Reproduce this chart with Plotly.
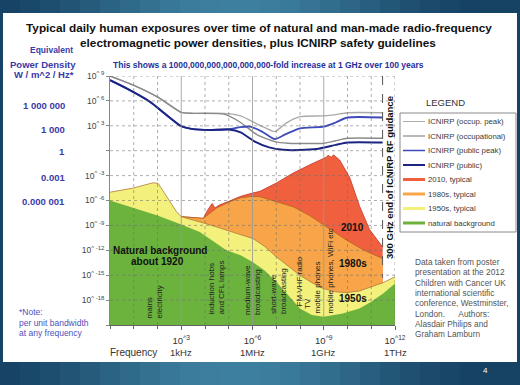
import numpy as np
import plotly.graph_objects as go

W, H = 520, 385
L, R, T, B = 110, 125, 76, 60
PW, PH = W - L - R, H - T - B

def px(x):
    return (x - L) / PW

def py(y):
    return (H - B - y) / PH

FONT = "Arial, Liberation Sans, sans-serif"

# ---------------- data (log10 of frequency in Hz, log10 of W/m^2/Hz) ----------------
occ_peak_f = [0, 0.98, 2.03, 3.0, 3.5, 4.8, 5.5, 6.0, 6.5, 6.94, 7.4, 8.0, 9.0, 9.5, 10.0, 11.48]
occ_peak_v = [9.0, 7.9, 6.43, 4.62, 4.5, 4.5, 4.2, 3.5, 2.8, 2.3, 3.3, 4.1, 4.2, 4.35, 4.58, 4.58]

occ_f = [0, 0.98, 2.03, 3.0, 3.5, 4.8, 5.5, 6.2, 6.94, 7.5, 9.0, 9.5, 10.0, 11.48]
occ_v = [9.0, 7.9, 6.43, 4.62, 4.5, 4.4, 3.4, 1.9, 1.1, 0.9, 0.9, 1.2, 1.5, 1.5]

pub_peak_f = [0, 0.7, 1.68, 2.38, 3.0, 3.5, 4.2, 5.0, 5.5, 5.9, 6.4, 6.94, 7.4, 8.0, 9.0, 9.5, 10.0, 11.48]
pub_peak_v = [8.5, 7.5, 5.9, 4.3, 2.95, 2.6, 2.5, 2.6, 2.85, 2.9, 2.3, 1.4, 2.0, 2.7, 2.9, 3.4, 4.0, 4.0]

pub_f = [0, 0.7, 1.68, 2.38, 3.0, 3.5, 4.2, 5.0, 5.5, 6.1, 6.7, 7.3, 8.0, 8.7, 9.5, 10.0, 11.48]
pub_v = [8.5, 7.5, 5.9, 4.3, 2.95, 2.6, 2.5, 2.55, 2.2, 1.1, 0.4, 0.1, 0.08, 0.2, 0.7, 1.0, 1.0]

red_f = [3.0, 3.93, 4.1, 4.3, 4.42, 4.6, 5.0, 5.5, 6.0, 6.31, 7.0, 7.71, 8.41, 8.9, 9.1, 9.18,
         9.27, 9.32, 9.41, 9.55, 9.67, 10.09, 10.51, 10.93, 11.48]
red_v = [-7.95, -8.15, -7.2, -6.35, -6.9, -6.55, -6.1, -5.5, -5.1, -4.9, -3.9, -2.7, -1.7, -1.05,
         -0.8, -0.55, -0.7, -0.8, -0.5, -0.8, -1.12, -3.2, -6.7, -9.5, -11.6]

orange_f = [3.0, 3.5, 3.93, 4.49, 5.0, 5.47, 6.0, 6.31, 7.0, 7.71, 8.4, 9.11, 9.95, 10.7, 11.48]
orange_v = [-7.95, -8.05, -8.15, -6.9, -6.2, -5.7, -5.5, -5.55, -6.1, -6.75, -7.8, -9.15, -10.76, -12.0, -13.0]

yellow_f = [0, 0.98, 1.5, 1.82, 2.03, 2.38, 2.8, 3.0, 3.5, 3.93, 4.5, 5.19, 6.03, 6.5, 7.01, 7.5,
            7.99, 8.5, 8.97, 9.5, 9.95, 10.5, 10.93, 11.5, 12]
yellow_v = [-5.0, -4.5, -4.1, -3.86, -3.95, -5.5, -7.35, -7.95, -8.4, -8.7, -9.2, -9.8, -10.6, -11.5,
            -12.8, -13.9, -15.0, -15.9, -16.6, -17.0, -17.1, -16.9, -16.5, -15.9, -15.2]

green_f = [0, 1, 2, 3.0, 3.78, 4.9, 5.5, 6.0, 6.5, 7.0, 7.5, 8.0, 8.5, 9.0, 9.8, 10.5, 11.0, 11.5, 12]
green_v = [-6.0, -6.9, -7.8, -8.9, -9.8, -12.0, -12.6, -13.4, -14.4, -15.8, -17.4, -19.0, -19.8,
           -20.0, -19.6, -19.0, -18.2, -17.2, -16.0]

x_tick_exp = [3, 6, 9, 12]
x_tick_names = ["1kHz", "1MHz", "1GHz", "1THz"]
y_tick_exp = [9, 6, 3, 0, -3, -6, -9, -12, -15, -18, -21]
left_equiv_text = ["1 000 000", "1 000", "1", "0.001", "0.000 001"]
icnirp_end_hz = 3e11

X_RANGE = [0, 12]
Y_RANGE = [-21, 9]
Y_FLOOR = 10.0 ** Y_RANGE[0]

C_RED, C_ORANGE, C_YELLOW, C_GREEN = "#f0603f", "#f7a548", "#f3f07c", "#6cb33e"
C_OCC_PEAK, C_OCC, C_PUB_PEAK, C_PUB = "#ababab", "#8a8a8a", "#3d4bbb", "#1b2480"

fig = go.Figure()

def band(f_exp, v_exp, fill, edge):
    xs = 10.0 ** np.array(f_exp, dtype=float)
    ys = 10.0 ** np.array(v_exp, dtype=float)
    fig.add_trace(go.Scatter(
        x=np.concatenate([xs, xs[::-1]]),
        y=np.concatenate([ys, np.full(len(xs), Y_FLOOR)]),
        fill="toself", fillcolor=fill, mode="lines", line=dict(width=0),
        hoverinfo="skip", showlegend=False))
    if edge:
        fig.add_trace(go.Scatter(x=xs, y=ys, mode="lines", line=dict(color=edge, width=0.8),
                                 hoverinfo="skip", showlegend=False))

band(red_f, red_v, C_RED, "#c0392b")
band(orange_f, orange_v, C_ORANGE, "#b5651d")
band(yellow_f, yellow_v, C_YELLOW, "#b07a3a")
band(green_f, green_v, C_GREEN, None)

def line(f_exp, v_exp, color, width):
    fig.add_trace(go.Scatter(x=10.0 ** np.array(f_exp, dtype=float),
                             y=10.0 ** np.array(v_exp, dtype=float),
                             mode="lines", line=dict(color=color, width=width, shape="spline", smoothing=0.6),
                             hoverinfo="skip", showlegend=False))

line(occ_peak_f, occ_peak_v, C_OCC_PEAK, 1.4)
line(occ_f, occ_v, C_OCC, 1.4)
line(pub_peak_f, pub_peak_v, C_PUB_PEAK, 1.8)
line(pub_f, pub_v, C_PUB, 2.0)

# 300 GHz dashed line
fig.add_trace(go.Scatter(x=[icnirp_end_hz, icnirp_end_hz], y=[10.0 ** Y_RANGE[1], 10.0 ** -15.3],
                         mode="lines", line=dict(color="#555", width=1, dash="dash"),
                         hoverinfo="skip", showlegend=False))

shapes = []
# slide frame gradient
n_strips = 26
for i in range(n_strips):
    t = (i + 0.5) / n_strips
    k = np.cos((t - 0.45) * np.pi) ** 2
    r = int(22 + (62 - 22) * k); g = int(66 + (128 - 66) * k); b = int(100 + (160 - 100) * k)
    shapes.append(dict(type="rect", xref="paper", yref="paper",
                       x0=px(i * W / n_strips), x1=px((i + 1) * W / n_strips + 1),
                       y0=py(H), y1=py(0), fillcolor=f"rgb({r},{g},{b})", line=dict(width=0), layer="below"))
shapes.append(dict(type="rect", xref="paper", yref="paper", x0=px(3), x1=px(517), y0=py(362), y1=py(13),
                   fillcolor="white", line=dict(width=0), layer="below"))

# grid lines above fills
for e in range(X_RANGE[0] + 1, X_RANGE[1] + 1):
    major = e in x_tick_exp[:-1]
    shapes.append(dict(type="line", xref="x", yref="y domain", x0=10.0 ** e, x1=10.0 ** e, y0=0, y1=1,
                       line=dict(color="rgba(150,150,150,0.8)" if major else "rgba(110,110,110,0.55)",
                                 width=1, dash="solid" if major else "dot"), layer="above"))
for e in y_tick_exp[:-1]:
    shapes.append(dict(type="line", xref="x domain", yref="y", x0=0, x1=1, y0=10.0 ** e, y1=10.0 ** e,
                       line=dict(color="rgba(110,110,110,0.55)", width=1, dash="dot"), layer="above"))

# legend box
shapes.append(dict(type="rect", xref="paper", yref="paper", x0=px(400), x1=px(516), y0=py(232), y1=py(113),
                   fillcolor="white", line=dict(color="#8a8a8a", width=1)))
legend_items = [
    ("ICNIRP (occup. peak)", C_OCC_PEAK, 1),
    ("ICNIRP (occupational)", C_OCC, 1.2),
    ("ICNIRP (public peak)", C_PUB_PEAK, 1.5),
    ("ICNIRP (public)", C_PUB, 2),
    ("2010, typical", C_RED, 3),
    ("1980s, typical", C_ORANGE, 3),
    ("1950s, typical", C_YELLOW, 3),
    ("natural background", C_GREEN, 3),
]
annotations = []
for i, (name, col, wd) in enumerate(legend_items):
    yy = 121.5 + i * 14.5
    shapes.append(dict(type="line", xref="paper", yref="paper", x0=px(403), x1=px(425), y0=py(yy), y1=py(yy),
                       line=dict(color=col, width=wd)))
    annotations.append(dict(x=px(426), y=py(yy), xref="paper", yref="paper", text=name, showarrow=False,
                            xanchor="left", yanchor="middle", font=dict(family=FONT, size=7.8, color="#3a3a3a")))

def ann(x, y, text, size=9, color="#222", bold=False, xa="center", ya="middle", angle=0, align="center"):
    if bold:
        text = "<b>" + text + "</b>"
    annotations.append(dict(x=px(x), y=py(y), xref="paper", yref="paper", text=text, showarrow=False,
                            xanchor=xa, yanchor=ya, textangle=angle, align=align,
                            font=dict(family=FONT, size=size, color=color)))

ann(445, 102, "LEGEND", size=9.5, color="#333")

# titles
ann(259, 28, "Typical daily human exposures over time of natural and man-made radio-frequency", size=11.8,
    color="#111", bold=True)
ann(258, 43, "electromagnetic power densities, plus ICNIRP safety guidelines", size=11.8, color="#111", bold=True)
ann(111, 65, "This shows a 1000,000,000,000,000,000-fold increase at 1 GHz over 100 years", size=8.5,
    color="#24309a", bold=True, xa="left")

BLUE = "#3a3aa8"
ann(51, 50, "Equivalent", size=8.5, color=BLUE, bold=True)
ann(43, 64, "Power Density", size=9.5, color=BLUE, bold=True)
ann(44, 75, "W / m^2 / Hz*", size=9.5, color=BLUE, bold=True)
for yy, txt in zip([105, 129, 151, 177, 201.5], left_equiv_text):
    ann(67, yy, txt, size=9.5, color=BLUE, bold=True, xa="right")
ann(17, 312, "*Note:", size=8.5, color="#5050b8", xa="left")
ann(17, 322.5, "per unit bandwidth", size=8.5, color="#5050b8", xa="left")
ann(17, 333, "at any frequency", size=8.5, color="#5050b8", xa="left")
ann(133, 352, "Frequency", size=10, color="#333")

# frequency names under the tick exponents
for e, n in zip(x_tick_exp, x_tick_names):
    annotations.append(dict(x=(e - X_RANGE[0]) / (X_RANGE[1] - X_RANGE[0]), y=py(352), xref="paper",
                            yref="paper", text=n, showarrow=False, xanchor="center", yanchor="middle",
                            font=dict(family=FONT, size=9.5, color="#333")))

# chart labels
ann(160, 250, "Natural background", size=10, color="#111", bold=True)
ann(157, 261, "about 1920", size=10, color="#111", bold=True)
ann(352, 227, "2010", size=10, color="#111", bold=True)
ann(353, 263, "1980s", size=10, color="#111", bold=True)
ann(353, 298, "1950s", size=10, color="#111", bold=True)
ann(389, 178, "300 GHz end of ICNIRP RF guidance", size=9.5, color="#111", bold=True, angle=-90)

vlabels = [(154, 302.5, "mains<br>electricity"), (216, 287.5, "induction hobs<br>and CFL lamps"),
           (252, 290, "medium-wave<br>broadcasting"), (278, 291, "short-wave<br>broadcasting"),
           (299, 281.5, "FM VHF radio"), (307, 304, "TV"), (317, 287.5, "mobile phones"),
           (330, 271.5, "mobile phones, WiFi etc")]
for x, y, t in vlabels:
    ann(x, y, t, size=8, color="#222", angle=-90, align="left")

credit = ["Data taken from poster", "presentation at the 2012", "Children with Cancer UK",
          "international scientific", "conference, Westminster,", "London.      Authors:",
          "Alasdair Philips and", "Graham Lamburn"]
for i, t in enumerate(credit):
    ann(413, 262 + i * 10.3, t, size=8.3, color="#555", xa="left")

ann(485, 370, "4", size=8, color="white")

fig.update_layout(
    width=W, height=H, margin=dict(l=L, r=R, t=T, b=B, autoexpand=False),
    paper_bgcolor="#24597a", plot_bgcolor="white",
    showlegend=False, shapes=shapes, annotations=annotations,
    font=dict(family=FONT),
    xaxis=dict(type="log", range=X_RANGE, showgrid=False, zeroline=False, automargin=False,
               showline=True, linecolor="#666", linewidth=1,
               tickvals=[10.0 ** e for e in x_tick_exp],
               ticktext=[f"10<sup>^{e}</sup>" for e in x_tick_exp],
               ticks="outside", ticklen=4, tickcolor="#666", ticklabelstandoff=3,
               tickfont=dict(family=FONT, size=9.5, color="#333"),
               minor=dict(tickvals=[10.0 ** e for e in range(X_RANGE[0], X_RANGE[1] + 1)],
                          ticks="outside", ticklen=3, tickcolor="#666", showgrid=False)),
    yaxis=dict(type="log", range=Y_RANGE, showgrid=False, zeroline=False, automargin=False,
               showline=True, linecolor="#888", linewidth=1,
               tickvals=[10.0 ** e for e in y_tick_exp],
               ticktext=["" if e in (0, Y_RANGE[0]) else f"10<sup>^ {e}</sup>" for e in y_tick_exp],
               ticks="outside", ticklen=3, tickcolor="#888",
               tickfont=dict(family=FONT, size=8.5, color="#444")),
)

fig.write_html("out.html", config={"displayModeBar": False},
               post_script="document.body.style.margin='0';")
